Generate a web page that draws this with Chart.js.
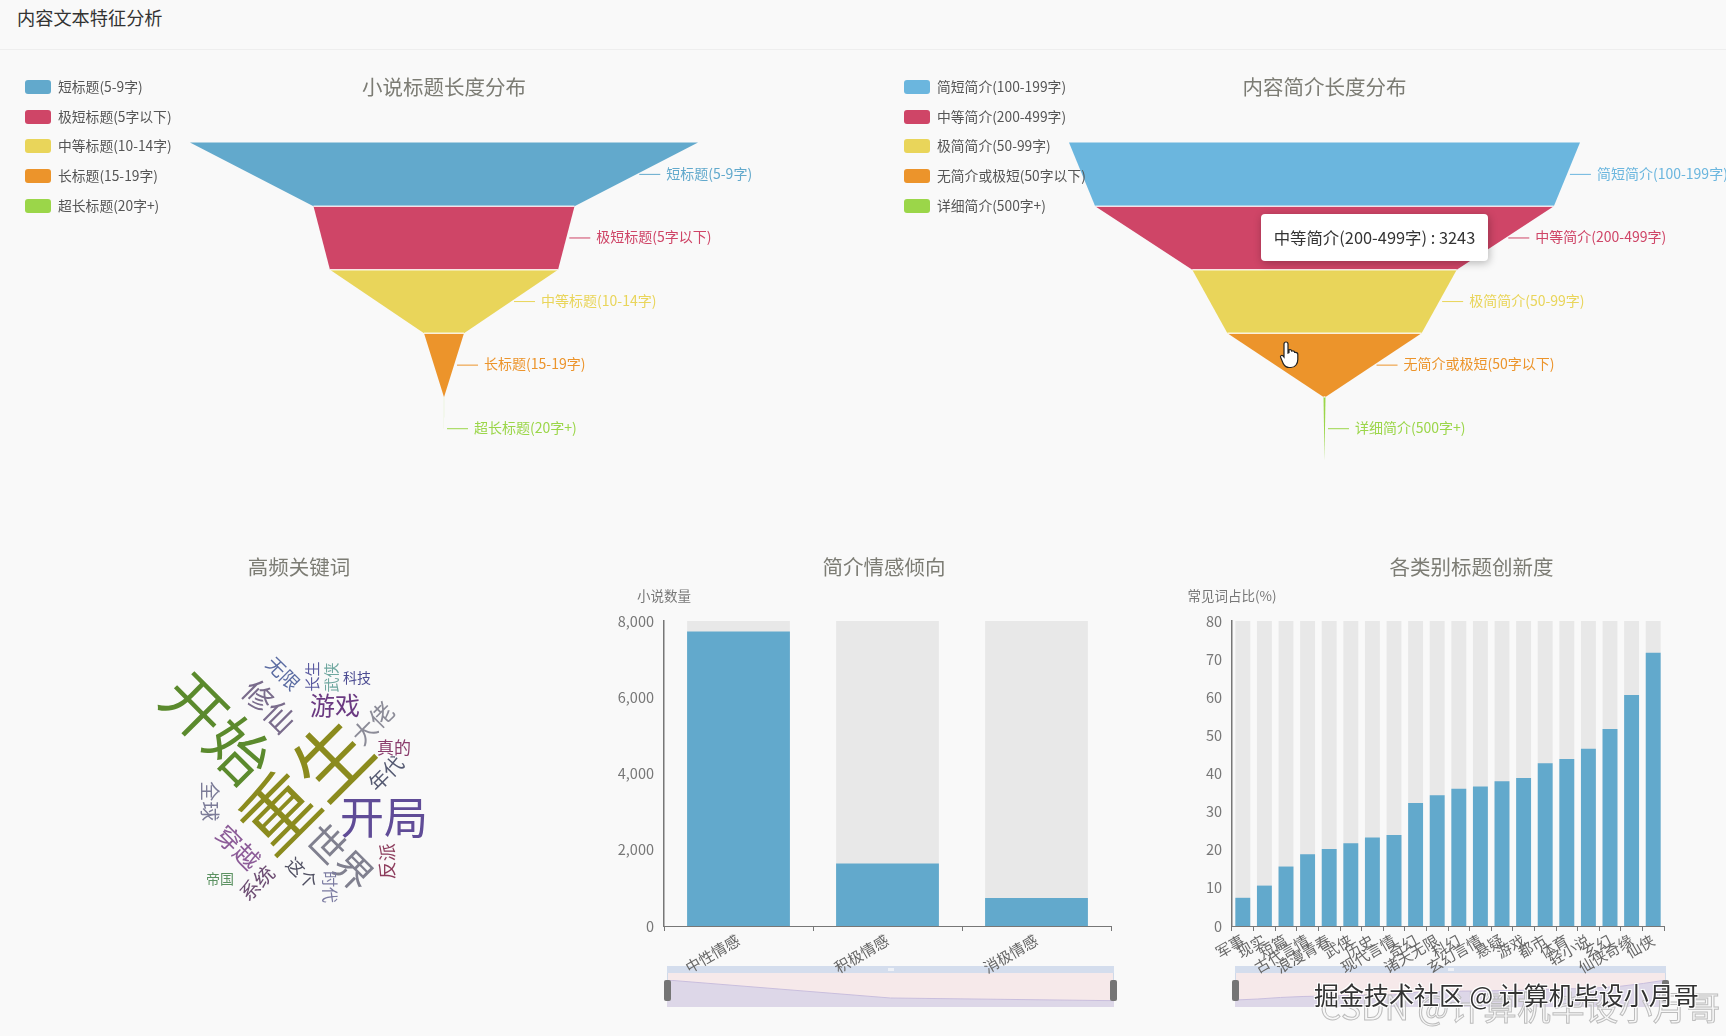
<!DOCTYPE html>
<html lang="zh">
<head>
<meta charset="utf-8">
<title>内容文本特征分析</title>
<script src="https://cdn.jsdelivr.net/npm/chart.js@4/dist/chart.umd.js"></script>
<style>
  html, body { margin: 0; padding: 0; width: 1726px; height: 1036px; overflow: hidden; background: #f9f9f9; }
  body { position: relative; font-family: "Noto Sans CJK SC", sans-serif; }
  canvas { position: absolute; }
  .page-title { position: absolute; left: 17px; top: 4px; font-size: 18.2px; line-height: 26px; color: #333; }
  .page-line { position: absolute; left: 0; right: 0; top: 49px; height: 1px; background: #eeeeee; }
  .legend-row { position: absolute; height: 20px; line-height: 20px; font-size: 13.8px; color: #555; white-space: nowrap; z-index: 5; }
  .legend-dot { position: absolute; left: 0; top: 3px; width: 26px; height: 14px; border-radius: 3px; }
  .legend-text { position: absolute; left: 33px; top: -1px; }
  .slider-strip { position: absolute; height: 7px; background: #d4dded; }
  .slider-strip i { position: absolute; left: 50%; top: 2px; width: 6px; height: 3px; margin-left: -3px; background: #eef1f7; }
  .slider-body { position: absolute; box-sizing: border-box; background: #f6e9ea; border: 1px solid #cfd9e8; border-top: 0; }
  .slider-handle { position: absolute; width: 7px; height: 21px; border-radius: 2px; background: #757575; z-index: 3; }
  .tip { position: absolute; left: 1261px; top: 214px; width: 227px; height: 47px; box-sizing: border-box; background: #fff; border-radius: 4px;
         box-shadow: 1px 2px 8px rgba(0,0,0,.28); font-size: 16.4px; line-height: 47px; text-align: center; color: #333; white-space: nowrap; z-index: 6; }
  .cursor { position: absolute; left: 1279px; top: 340px; z-index: 7; }
  .mark-a { position: absolute; left: 1314px; top: 976px; font-size: 25px; line-height: 36px; color: #333; white-space: nowrap; z-index: 9;
            text-shadow: 1px 1px 0 #fff, -1px -1px 0 #fff, 1px -1px 0 #fff, -1px 1px 0 #fff; }
  .mark-b { position: absolute; left: 1320px; top: 984px; font-size: 33.4px; line-height: 44px; letter-spacing: 0.5px; color: rgba(245,245,245,.6); white-space: nowrap; z-index: 8;
            -webkit-text-stroke: 1px #bdbdbd; }
</style>
</head>
<body>
<div class="page-title">内容文本特征分析</div>
<div class="page-line"></div>
<canvas id="titleFunnel" width="888" height="430" style="left:0;top:50px"></canvas>
<canvas id="introFunnel" width="803" height="430" style="left:923px;top:50px"></canvas>
<canvas id="keywordCloud" width="338" height="400" style="left:130px;top:530px"></canvas>
<div id="sliderSentiment"></div>
<div id="sliderNovelty"></div>
<canvas id="sentimentBars" width="568" height="450" style="left:600px;top:530px"></canvas>
<canvas id="noveltyBars" width="583" height="450" style="left:1180px;top:530px"></canvas>
<div id="titleLegend"></div>
<div id="introLegend"></div>
<div class="tip" id="tip"></div>
<svg class="cursor" width="22" height="30" viewBox="0 0 22 30">
  <path d="M7 2c1.2 0 2 .9 2 2v9l1-.4V9.8c1.4-.6 2.5.1 2.6 1.2l.9-.1c1.2-.2 2.1.5 2.2 1.5l.9-.1c1.3 0 2.2.9 2.2 2.2v5c0 4-2.400 8-6.800 8h-2c-2.800 0-4.300-1.500-5.600-3.600L1.700 17.500c-.8-1.500.9-2.900 2.300-1.700L5 17V4c0-1.100.8-2 2-2z" fill="#fff" stroke="#222" stroke-width="1.200"/>
</svg>
<div class="mark-b">CSDN @计算机毕设小月哥</div>
<div class="mark-a">掘金技术社区 @ 计算机毕设小月哥</div>

<script>
  const titleLengthLabels = ['短标题(5-9字)', '极短标题(5字以下)', '中等标题(10-14字)', '长标题(15-19字)', '超长标题(20字+)'];
  const titleLengthValues = [4893, 2514, 2197, 385, 1];

  const introLengthLabels = ['简短简介(100-199字)', '中等简介(200-499字)', '极简简介(50-99字)', '无简介或极短(50字以下)', '详细简介(500字+)'];
  const introLengthValues = [3613, 3243, 1870, 1373, 14];

  const keywordList = ['开始', '重生', '开局', '世界', '修仙', '游戏', '大佬', '无限', '长生', '武侠', '科技', '真的', '年代', '全球', '穿越', '反派', '这个', '时代', '帝国', '系统'];

  const sentimentLabels = ['中性情感', '积极情感', '消极情感'];
  const sentimentValues = [7729, 1640, 737];
  const sentimentTicks = [0, 2000, 4000, 6000, 8000];

  const noveltyLabels = ['军事', '现实', '短篇', '古代言情', '浪漫青春', '武侠', '历史', '现代言情', '奇幻', '诸天无限', '科幻', '玄幻言情', '悬疑', '游戏', '都市', '体育', '轻小说', '玄幻', '仙侠奇缘', '仙侠'];
  const noveltyValues = [7.4, 10.6, 15.6, 18.8, 20.2, 21.7, 23.2, 23.9, 32.3, 34.3, 36.0, 36.6, 38.0, 38.8, 42.7, 43.8, 46.5, 51.7, 60.6, 71.7];
  const noveltyTicks = [0, 10, 20, 30, 40, 50, 60, 70, 80];

  // layout of the word cloud, one entry per keyword: x, y, font size, angle, colour
  const cloudLayout = [
    [87, 106, 62, 45, '#5b8a2d'], [175, 163, 75, -45, '#8b8b1e'], [254, 195, 44, 0, '#604c97'], [210, 235, 38, 45, '#80808f'],
    [139, 84, 30, 45, '#7a6c8c'], [205, 83, 25, 0, '#6b3a82'], [243, 101, 24, -45, '#8c8c98'], [153, 51, 19, 45, '#5b6ca2'],
    [182, 54, 15, -90, '#5a5aa0'], [201, 55, 15, -90, '#70a8a0'], [227, 55, 14, 0, '#4c4c92'], [264, 125, 17, 0, '#8a3c6c'],
    [256, 151, 20, -45, '#555a72'], [80, 179, 20, 90, '#7c7c98'], [108, 225, 25, 45, '#8c5c98'], [257, 239, 18, -90, '#8c3c5c'],
    [172, 251, 18, 45, '#505062'], [200, 265, 16, 90, '#7c7ca2'], [90, 257, 14, 0, '#5c9262'], [127, 261, 20, -45, '#6c4c72']
  ];

  const BAR_BLUE = '#62a9cc';
  const BAR_BACK = '#e8e8e8';
  const AXIS_GRAY = '#777777';
  const TITLE_GRAY = '#7c7c74';
  const titleColors = ['#62a9cc', '#cf4567', '#e9d55a', '#ec942b', '#9bd649'];
  const introColors = ['#6bb6de', '#cf4567', '#e9d55a', '#ec942b', '#9bd649'];

  Chart.defaults.font.family = '"Noto Sans CJK SC", sans-serif';
  Chart.defaults.animation = false;
  Chart.defaults.responsive = false;
  Chart.defaults.events = [];
  Chart.defaults.plugins.legend.display = false;
  Chart.defaults.plugins.tooltip.enabled = false;

  function panelTitle(text, gap) {
    return { display: true, text: text, color: TITLE_GRAY, font: { size: 20.5, weight: 'normal' }, padding: { top: 25, bottom: gap } };
  }

  // Draws the floating horizontal bars as funnel slices, each narrowing to the width of the next bar
  const funnelPlugin = {
    id: 'funnelSlices',
    beforeDatasetDraw(chart, args) {
      const ctx = chart.ctx;
      const bars = args.meta.data;
      const colors = chart.data.datasets[0].backgroundColor;
      bars.forEach((bar, i) => {
        const next = bars[i + 1];
        const center = chart.scales.x.getPixelForValue(0);
        const top = bar.y - bar.height / 2;
        const bottom = bar.y + bar.height / 2;
        const nextRight = next ? next.x : center;
        const nextLeft = next ? next.base : center;

        ctx.beginPath();
        ctx.moveTo(bar.base, top);
        ctx.lineTo(bar.x, top);
        ctx.lineTo(nextRight, bottom);
        ctx.lineTo(nextLeft, bottom);
        ctx.closePath();
        ctx.fillStyle = colors[i];
        ctx.fill();

        if (i > 0) {
          ctx.beginPath();
          ctx.moveTo(bar.base, top);
          ctx.lineTo(bar.x, top);
          ctx.strokeStyle = 'rgba(255,255,255,.8)';
          ctx.lineWidth = 1.5;
          ctx.stroke();
        }

        const labelX = (bar.x + nextRight) / 2 + 3;
        ctx.beginPath();
        ctx.moveTo(labelX, bar.y);
        ctx.lineTo(labelX + 21, bar.y);
        ctx.strokeStyle = colors[i];
        ctx.lineWidth = 1;
        ctx.stroke();

        ctx.fillStyle = colors[i];
        ctx.font = '14px "Noto Sans CJK SC", sans-serif';
        ctx.textAlign = 'left';
        ctx.textBaseline = 'middle';
        ctx.fillText(chart.data.labels[i], labelX + 27, bar.y - 1);
      });
      return false;
    }
  };

  // Writes each keyword at its scatter point
  const cloudPlugin = {
    id: 'cloudWords',
    afterDatasetsDraw(chart) {
      const ctx = chart.ctx;
      chart.getDatasetMeta(0).data.forEach((pt, i) => {
        const layout = cloudLayout[i];
        ctx.save();
        ctx.translate(pt.x, pt.y);
        ctx.rotate(layout[3] * Math.PI / 180);
        ctx.fillStyle = layout[4];
        ctx.font = layout[2] + 'px "Noto Sans CJK SC", sans-serif';
        ctx.textAlign = 'center';
        ctx.textBaseline = 'middle';
        ctx.fillText(keywordList[i], 0, 0);
        ctx.restore();
      });
    }
  };

  // Axis name above the top of the y axis; the title is centred on the whole canvas, not inside the padding
  const axisNamePlugin = {
    id: 'axisName',
    afterLayout(chart) {
      chart.titleBlock.left = 0;
      chart.titleBlock.right = chart.width;
    },
    afterDraw(chart, args, opts) {
      const ctx = chart.ctx;
      ctx.save();
      ctx.fillStyle = AXIS_GRAY;
      ctx.font = '13.500px "Noto Sans CJK SC", sans-serif';
      ctx.textAlign = 'center';
      ctx.textBaseline = 'middle';
      ctx.fillText(opts.text, chart.scales.y.right, chart.scales.y.top - 25);
      ctx.restore();
    }
  };

  function buildLegend(id, left, labels, colors) {
    const box = document.getElementById(id);
    box.innerHTML = labels.map((text, i) => `
      <div class="legend-row" style="left:${left}px;top:${77 + i * 29.7}px">
        <span class="legend-dot" style="background:${colors[i]}"></span>
        <span class="legend-text">${text}</span>
      </div>`).join('');
  }

  function buildFunnel(id, title, labels, values, colors, padLeft, padRight) {
    const half = Math.max(...values) / 2;
    new Chart(document.getElementById(id), {
      type: 'bar',
      data: {
        labels: labels,
        datasets: [{ data: values.map(v => [-v / 2, v / 2]), backgroundColor: colors, categoryPercentage: 1, barPercentage: 1 }]
      },
      options: {
        indexAxis: 'y',
        layout: { padding: { left: padLeft, right: padRight, bottom: 19.5 } },
        scales: {
          x: { display: false, min: -half, max: half },
          y: { display: false }
        },
        plugins: { title: panelTitle(title, 43) }
      },
      plugins: [funnelPlugin]
    });
  }

  function buildBars(id, title, axisName, labels, values, tickValues, yWidth, padRight) {
    const top = tickValues[tickValues.length - 1];
    new Chart(document.getElementById(id), {
      type: 'bar',
      data: {
        labels: labels,
        datasets: [
          { data: values, backgroundColor: BAR_BLUE, grouped: false, order: 1, categoryPercentage: 1, barPercentage: 0.69 },
          { data: labels.map(() => top), backgroundColor: BAR_BACK, grouped: false, order: 2, categoryPercentage: 1, barPercentage: 0.69 }
        ]
      },
      options: {
        layout: { padding: { right: padRight } },
        scales: {
          x: {
            grid: { drawOnChartArea: false, tickLength: 5, tickColor: AXIS_GRAY, tickWidth: 1 },
            border: { color: AXIS_GRAY, width: 1 },
            ticks: { color: '#666666', font: { size: 15 }, autoSkip: false, minRotation: 30, maxRotation: 30, padding: 0 },
            afterFit: s => { s.height = 54; }
          },
          y: {
            min: 0,
            max: top,
            grid: { display: false, tickLength: 8 },
            border: { color: AXIS_GRAY, width: 1.5 },
            ticks: { color: AXIS_GRAY, font: { size: 14.500 }, padding: 2, stepSize: tickValues[1] },
            afterFit: s => { s.width = yWidth; }
          }
        },
        plugins: { title: panelTitle(title, 41.5), axisName: { text: axisName } }
      },
      plugins: [axisNamePlugin]
    });
  }

  function buildSlider(id, left, width, labels, values, floor) {
    const box = document.getElementById(id);
    box.innerHTML = `
      <div class="slider-strip" style="left:${left}px;top:966px;width:${width}px"><i></i></div>
      <div class="slider-body" style="left:${left}px;top:973px;width:${width}px;height:34px"></div>
      <div class="slider-handle" style="left:${left - 3}px;top:980px"></div>
      <div class="slider-handle" style="left:${left + width - 4}px;top:980px"></div>
      <canvas width="${width}" height="27" style="left:${left}px;top:980px"></canvas>`;
    new Chart(box.querySelector('canvas'), {
      type: 'line',
      data: {
        labels: labels,
        datasets: [{ data: values, borderColor: '#c9bedd', borderWidth: 1, backgroundColor: '#ddd7e8', fill: 'start', pointRadius: 0, tension: 0 }]
      },
      options: {
        scales: {
          x: { display: false, offset: false },
          y: { display: false, min: floor, max: Math.max(...values) }
        }
      }
    });
  }

  buildLegend('titleLegend', 25, titleLengthLabels, titleColors);
  buildLegend('introLegend', 904, introLengthLabels, introColors);
  buildFunnel('titleFunnel', '小说标题长度分布', titleLengthLabels, titleLengthValues, titleColors, 190, 190);
  buildFunnel('introFunnel', '内容简介长度分布', introLengthLabels, introLengthValues, introColors, 146, 146);

  new Chart(document.getElementById('keywordCloud'), {
    type: 'scatter',
    data: {
      labels: keywordList,
      datasets: [{ data: cloudLayout.map(l => ({ x: l[0], y: l[1] })), pointRadius: 0 }]
    },
    options: {
      scales: {
        x: { display: false, min: 0, max: 338 },
        y: { display: false, min: 0, max: 308, reverse: true }
      },
      plugins: { title: panelTitle('高频关键词', 43) }
    },
    plugins: [cloudPlugin]
  });

  buildBars('sentimentBars', '简介情感倾向', '小说数量', sentimentLabels, sentimentValues, sentimentTicks, 64, 57);
  buildBars('noveltyBars', '各类别标题创新度', '常见词占比(%)', noveltyLabels, noveltyValues, noveltyTicks, 52, 99);
  buildSlider('sliderSentiment', 667, 447, sentimentLabels, sentimentValues, -1400);
  buildSlider('sliderNovelty', 1235, 431, noveltyLabels, noveltyValues, -15);

  document.getElementById('tip').textContent = `${introLengthLabels[1]} : ${introLengthValues[1]}`;
</script>
</body>
</html>
